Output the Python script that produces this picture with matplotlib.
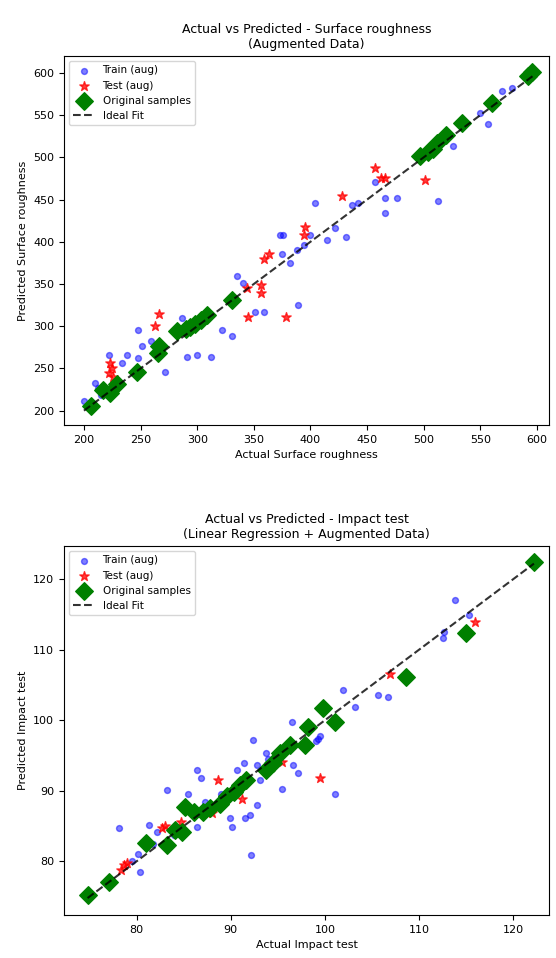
#实际值 vs 预测值 散点图（表面粗糙度 / 冲击试验）
import matplotlib
matplotlib.use('Agg')
import matplotlib.pyplot as plt

#1.表面粗糙度数据
sr_train_actual = [200, 210, 212, 222, 234, 238, 248, 251, 259, 248, 272, 287, 291, 300, 312, 322, 331,
                   335, 340, 351, 359, 375, 382, 388, 389, 373, 394, 376, 400, 415, 422, 431, 404, 437,
                   442, 466, 476, 466, 513, 526, 557, 550, 569, 457, 578, 215, 206, 230, 264, 300]
sr_train_pred = [211, 233, 227, 266, 257, 266, 262, 276, 282, 296, 246, 310, 264, 266, 264, 296, 288,
                 359, 351, 317, 317, 386, 375, 390, 325, 408, 396, 408, 408, 402, 416, 406, 446, 444,
                 446, 452, 452, 434, 448, 513, 539, 552, 578, 471, 582, 218, 210, 235, 270, 303]
sr_test_actual = [223, 225, 222, 226, 266, 263, 345, 356, 356, 344, 359, 363, 378, 395, 394, 457, 462,
                  466, 501, 428]
sr_test_pred = [256, 250, 244, 240, 315, 300, 311, 349, 339, 345, 379, 386, 311, 418, 408, 487, 475,
                475, 473, 454]
sr_orig_actual = [206, 223, 229, 217, 247, 265, 266, 282, 290, 294, 298, 303, 309, 331, 497, 504, 508,
                  512, 520, 534, 560, 592, 596]
sr_orig_pred = [205, 221, 232, 224, 246, 268, 276, 294, 297, 299, 303, 307, 313, 331, 501, 506, 510,
                517, 527, 541, 564, 596, 601]

#2.冲击试验数据
it_train_actual = [78.1, 81.3, 80.4, 80.2, 82.2, 83.2, 85.5, 86.4, 86.9, 86.4, 87.3, 89.9, 90.1, 91.5,
                   92.1, 92.8, 92.2, 90.7, 91.4, 92.4, 92.8, 93.1, 93.7, 95.4, 96.6, 97.1, 96.5, 99.1,
                   99.5, 101.1, 87.5, 113.8, 115.3, 112.7, 112.5, 101.9, 103.2, 105.6, 106.7, 99.3,
                   79.5, 81.8, 84.0, 89.0, 94.0]
it_train_pred = [84.7, 85.1, 78.5, 81.1, 84.2, 90.1, 89.6, 92.9, 91.8, 84.9, 88.4, 86.1, 84.9, 86.1,
                 86.6, 88.0, 80.9, 92.9, 93.9, 97.2, 93.6, 91.5, 95.3, 90.3, 93.6, 92.5, 99.8, 97.0,
                 97.7, 89.6, 86.8, 117.0, 114.9, 112.5, 111.6, 104.3, 101.9, 103.6, 103.3, 97.4,
                 80.0, 82.5, 83.8, 89.5, 94.5]
it_test_actual = [78.3, 78.7, 79.0, 82.7, 83.0, 84.7, 88.7, 91.2, 99.5, 95.4, 88.0, 106.9, 115.9]
it_test_pred = [78.8, 79.5, 79.7, 84.7, 85.0, 85.6, 91.5, 88.9, 91.8, 94.1, 86.8, 106.6, 113.9]
it_orig_actual = [74.8, 77.1, 81.0, 83.2, 84.1, 84.8, 85.2, 86.1, 87.1, 87.8, 88.9, 89.6, 90.3, 91.0,
                  91.6, 93.8, 94.5, 95.2, 96.3, 97.9, 98.2, 99.8, 101.1, 108.6, 115.0, 122.2]
it_orig_pred = [75.2, 77.1, 82.6, 82.3, 84.4, 84.2, 87.7, 87.0, 87.0, 87.5, 88.2, 89.2, 89.9, 90.8,
                91.5, 93.0, 93.9, 95.3, 96.5, 96.5, 99.1, 101.7, 99.8, 106.2, 112.3, 122.4]


#画单个子图
def draw_panel(ax, tr_x, tr_y, te_x, te_y, or_x, or_y, name, title, xlim, ylim):
    ax.scatter(tr_x, tr_y, color='blue', alpha=0.5, s=18, label='Train (aug)')
    ax.scatter(te_x, te_y, color='red', marker='*', alpha=0.75, s=50, label='Test (aug)')
    ax.scatter(or_x, or_y, color='green', marker='D', s=80, label='Original samples')
    lo = min(min(tr_x), min(or_x))
    hi = max(max(tr_x), max(or_x))
    ax.plot([lo, hi], [lo, hi], 'k--', lw=1.5, alpha=0.8, label='Ideal Fit')
    ax.set_xlim(xlim)
    ax.set_ylim(ylim)
    ax.set_xlabel(f'Actual {name}', fontsize=8)
    ax.set_ylabel(f'Predicted {name}', fontsize=8)
    ax.set_title(title, fontsize=9)
    ax.tick_params(labelsize=8)
    ax.legend(loc='upper left', fontsize=7.5)


fig = plt.figure(figsize=(5.56, 9.58), dpi=100)
ax1 = fig.add_axes([64 / 556, 1 - 425 / 958, 485 / 556, 369 / 958])
ax2 = fig.add_axes([64 / 556, 1 - 915 / 958, 485 / 556, 369 / 958])

draw_panel(ax1, sr_train_actual, sr_train_pred, sr_test_actual, sr_test_pred,
           sr_orig_actual, sr_orig_pred, 'Surface roughness',
           'Actual vs Predicted - Surface roughness\n(Augmented Data)',
           (182.4, 610.6), (183, 620))
draw_panel(ax2, it_train_actual, it_train_pred, it_test_actual, it_test_pred,
           it_orig_actual, it_orig_pred, 'Impact test',
           'Actual vs Predicted - Impact test\n(Linear Regression + Augmented Data)',
           (72.3, 123.8), (72.4, 124.7))

fig.savefig('out.png', dpi=100)
